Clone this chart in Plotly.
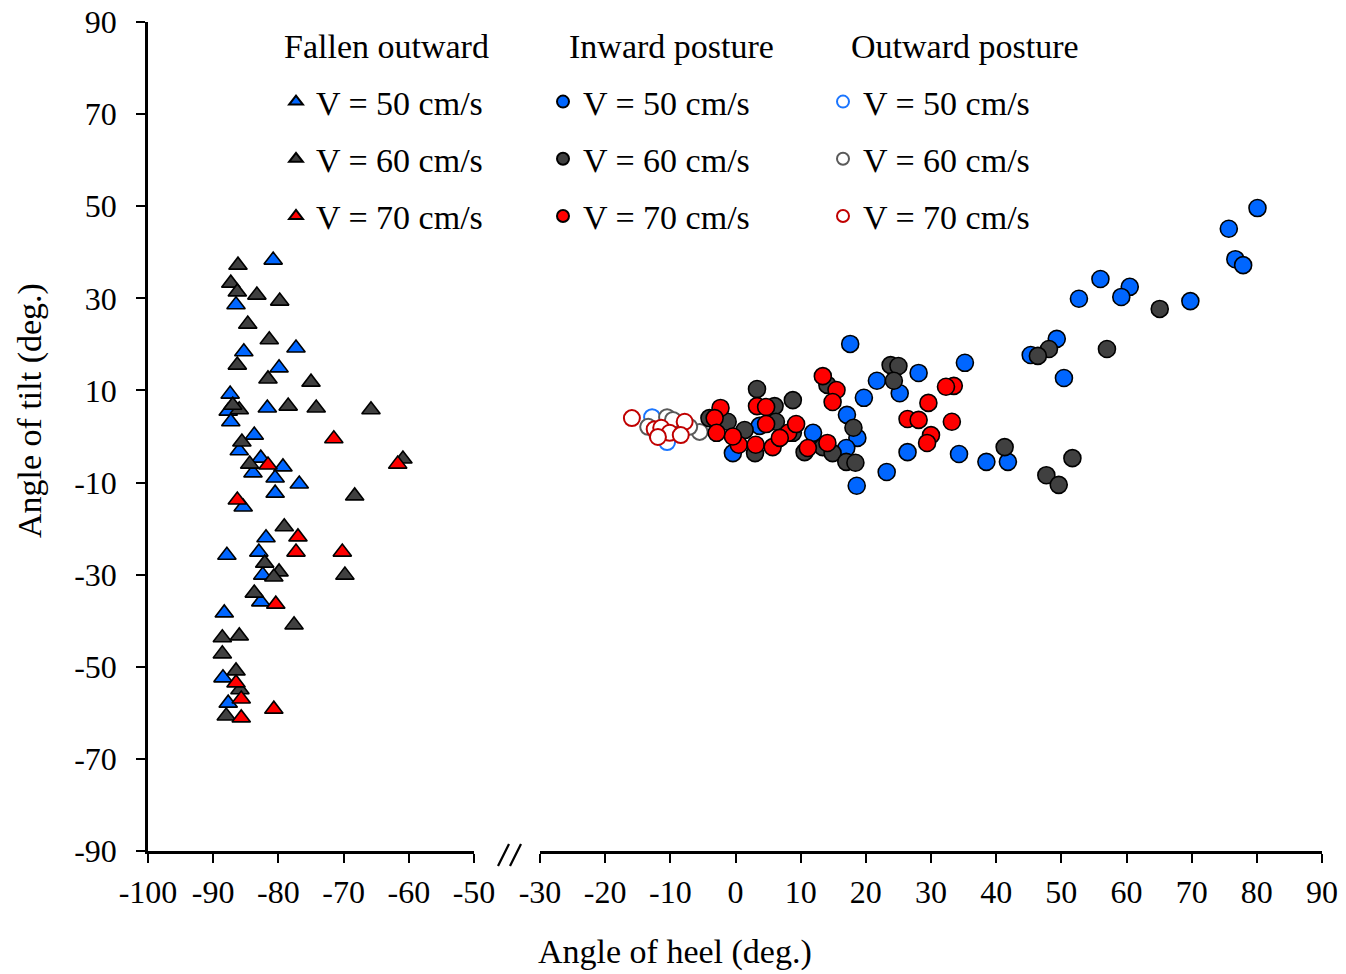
import plotly.graph_objects as go

# ---------------- data ----------------
# Fallen outward (heel angle, tilt angle)
fall50_x = [-80.8, -86.5, -85.3, -77.3, -79.9, -87.4, -87.7, -87.3, -81.7, -83.7, -86.0, -82.7, -79.3,
            -83.9, -80.5, -76.8, -80.5, -85.4, -87.9, -81.9, -83.0, -82.4, -82.7, -88.3, -88.5, -87.7]
fall50_y = [38.3, 28.6, 18.4, 19.2, 14.9, 9.2, 5.5, 3.2, 6.2, 0.3, -3.1, -4.7, -6.6,
            -7.9, -9.0, -10.3, -12.3, -15.3, -25.8, -22.0, -25.1, -30.1, -35.9, -38.3, -52.4, -57.9]

fall60_x = [-86.2, -87.3, -86.3, -83.3, -79.8, -84.7, -81.4, -86.3, -81.6, -75.0, -78.5, -74.2, -65.8,
            -86.0, -87.0, -85.6, -84.4, -60.9, -68.3, -79.1, -82.1, -79.9, -80.7, -83.7, -69.8, -77.6,
            -88.6, -86.0, -88.6, -86.5, -85.9, -88.0]
fall60_y = [37.2, 33.3, 31.4, 30.7, 29.4, 24.4, 21.0, 15.5, 12.5, 11.8, 6.6, 6.2, 5.8,
            5.8, 6.8, -1.2, -6.0, -4.9, -12.9, -19.6, -27.5, -29.4, -30.5, -34.0, -30.1, -40.9,
            -43.7, -43.3, -47.2, -50.9, -55.0, -60.7]

fall70_x = [-71.5, -81.6, -61.7, -86.3, -77.0, -77.3, -70.2, -80.4, -86.5, -85.7, -85.7, -80.7]
fall70_y = [-0.5, -6.2, -6.0, -13.8, -21.8, -25.1, -25.1, -36.4, -53.5, -57.0, -61.1, -59.2]

# Inward posture
in50_x = [80.1, 75.7, 76.7, 77.9, 56.0, 60.5, 52.7, 59.2, 69.8, 49.3, 45.3, 50.4, 35.2, 28.1, 17.6,
          21.7, 19.7, 25.2, 17.1, 11.9, 18.7, 17.0, 26.4, 34.3, 38.5, 41.8, 23.2, 18.6, -0.4, 3.7]
in50_y = [49.6, 45.1, 38.5, 37.2, 34.2, 32.5, 29.9, 30.3, 29.4, 21.2, 17.7, 12.7, 16.0, 13.8, 20.1,
          12.1, 8.4, 9.4, 4.7, 0.8, -0.3, -2.5, -3.4, -3.8, -5.5, -5.5, -7.7, -10.7, -3.6, 2.3]

in60_x = [65.1, 57.0, 48.1, 46.4, 41.3, 51.7, 47.7, 49.6, 3.3, 8.8, 6.0, 6.2, -1.2, 1.4, -4.0,
          3.0, 8.8, 14.1, 23.8, 25.0, 24.3, 18.1, 13.4, 14.9, 17.0, 18.4, 10.6]
in60_y = [27.7, 19.0, 19.0, 17.5, -2.3, -4.7, -8.4, -10.5, 10.3, 7.9, 6.6, 3.2, 3.2, 1.4, 4.0,
          -3.6, 0.8, 11.2, 15.5, 15.3, 12.1, 1.9, -2.3, -3.6, -5.5, -5.7, -3.4]

in70_x = [33.5, 32.3, 29.6, 26.4, 28.1, 33.2, 30.0, 29.4, 13.4, 15.5, 14.9, -2.3, -3.2, -2.9, 3.3,
          4.7, 4.7, 8.1, 9.3, 0.5, 3.1, 5.7, -0.4, 11.1, 14.1, 6.8]
in70_y = [11.0, 10.8, 7.3, 3.8, 3.6, 3.2, 0.3, -1.4, 13.1, 10.1, 7.5, 6.2, 4.0, 0.8, 6.6,
          6.4, 2.7, 0.8, 2.7, -1.8, -1.8, -2.3, 0.0, -2.5, -1.4, -0.3]

# Outward posture
out50_x = [-12.8, -10.5, -8.0]
out50_y = [4.2, -1.2, 2.0]
out60_x = [-10.5, -5.5, -13.4, -9.6, -7.1, -12.0]
out60_y = [4.2, 1.0, 2.1, 3.6, 2.1, 0.5]
out70_x = [-15.9, -12.4, -11.4, -10.1, -7.8, -8.4, -11.9]
out70_y = [4.0, 1.6, 1.9, 0.8, 3.2, 0.3, -0.1]

speed_labels = ["V = 50 cm/s", "V = 60 cm/s", "V = 70 cm/s"]
group_titles = ["Fallen outward", "Inward posture", "Outward posture"]
y_ticks = [90, 70, 50, 30, 10, -10, -30, -50, -70, -90]
x_left_ticks = [-100, -90, -80, -70, -60, -50]
x_right_ticks = [-30, -20, -10, 0, 10, 20, 30, 40, 50, 60, 70, 80, 90]

# ---------------- styling ----------------
FONT = "Liberation Serif"
FS_TICK = 32
FS = 34
BLUE, GRAY, RED = "#0066FF", "#404040", "#FF0000"
OPEN_BLUE, OPEN_GRAY, OPEN_RED = "#1A75FF", "#5A5A5A", "#C00000"

W, H = 1346, 974
ML, MR, MT, MB = 148, 24, 22, 123
PW = W - ML - MR
PH = H - MT - MB


def px_x(p):
    return (p - ML) / PW


def px_y(p):
    return (H - MB - p) / PH


def hyphen_labels(vals):
    # plain ASCII hyphen for negative numbers
    return [str(v) for v in vals]


fig = go.Figure()

fallen = [(fall50_x, fall50_y, BLUE), (fall60_x, fall60_y, GRAY), (fall70_x, fall70_y, RED)]
inward = [(in50_x, in50_y, BLUE), (in60_x, in60_y, GRAY), (in70_x, in70_y, RED)]
outward = [(out50_x, out50_y, OPEN_BLUE), (out60_x, out60_y, OPEN_GRAY), (out70_x, out70_y, OPEN_RED)]

for i, (xs, ys, c) in enumerate(fallen):
    fig.add_trace(go.Scatter(
        x=xs, y=ys, mode="markers", xaxis="x", yaxis="y",
        name=speed_labels[i], legend="legend", legendgroup=f"f{i}",
        marker=dict(symbol="triangle-up", size=16, color=c, line=dict(color="black", width=1.6)),
    ))

for i, (xs, ys, c) in enumerate(outward):
    fig.add_trace(go.Scatter(
        x=xs, y=ys, mode="markers", xaxis="x2", yaxis="y",
        name=speed_labels[i], legend="legend3", legendgroup=f"o{i}",
        marker=dict(symbol="circle", size=16, color="white", line=dict(color=c, width=2)),
    ))

for i, (xs, ys, c) in enumerate(inward):
    fig.add_trace(go.Scatter(
        x=xs, y=ys, mode="markers", xaxis="x2", yaxis="y",
        name=speed_labels[i], legend="legend2", legendgroup=f"i{i}",
        marker=dict(symbol="circle", size=17, color=c, line=dict(color="black", width=1.6)),
    ))

axis_common = dict(
    showline=True, linecolor="black", linewidth=2.5,
    ticks="outside", ticklen=9, tickwidth=2, tickcolor="black",
    showgrid=False, zeroline=False, automargin=False,
    tickfont=dict(family=FONT, size=FS_TICK, color="black"),
)

legend_common = dict(
    font=dict(family=FONT, size=FS, color="black"),
    bgcolor="rgba(0,0,0,0)", itemsizing="constant", traceorder="grouped",
    tracegroupgap=10, xanchor="left", yanchor="top",
)

fig.update_layout(
    width=W, height=H,
    margin=dict(l=ML, r=MR, t=MT, b=MB, autoexpand=False),
    paper_bgcolor="white", plot_bgcolor="white",
    font=dict(family=FONT, size=FS, color="black"),
    xaxis=dict(axis_common, domain=[0, px_x(474)], range=[-100, -50], anchor="y",
               tickvals=x_left_ticks, ticktext=hyphen_labels(x_left_ticks), ticklabelstandoff=2),
    xaxis2=dict(axis_common, domain=[px_x(540), 1], range=[-30, 90], anchor="y",
                tickvals=x_right_ticks, ticktext=hyphen_labels(x_right_ticks), ticklabelstandoff=2),
    yaxis=dict(axis_common, range=[-90, 90], anchor="x",
               tickvals=y_ticks, ticktext=hyphen_labels(y_ticks), ticklabelstandoff=13),
    legend=dict(legend_common, x=px_x(276), y=px_y(73)),
    legend2=dict(legend_common, x=px_x(543), y=px_y(73)),
    legend3=dict(legend_common, x=px_x(823), y=px_y(73)),
    showlegend=True,
)

# group headings above the legend columns
for title, cx in zip(group_titles, [386, 671, 965]):
    fig.add_annotation(text=title, x=px_x(cx), y=px_y(46), xref="paper", yref="paper",
                       showarrow=False, xanchor="center", yanchor="middle",
                       font=dict(family=FONT, size=FS, color="black"))

# axis titles
fig.add_annotation(text="Angle of heel (deg.)", x=px_x(675), y=px_y(952), xref="paper", yref="paper",
                   showarrow=False, xanchor="center", yanchor="middle",
                   font=dict(family=FONT, size=FS, color="black"))
fig.add_annotation(text="Angle of tilt (deg.)", x=px_x(30), y=px_y(411), xref="paper", yref="paper",
                   showarrow=False, xanchor="center", yanchor="middle", textangle=-90,
                   font=dict(family=FONT, size=FS, color="black"))

# axis break marks
for x0 in (498, 510):
    fig.add_shape(type="line", xref="paper", yref="paper",
                  x0=px_x(x0), y0=px_y(866), x1=px_x(x0 + 11), y1=px_y(844),
                  line=dict(color="black", width=2.2))

fig.write_html("out.html")
